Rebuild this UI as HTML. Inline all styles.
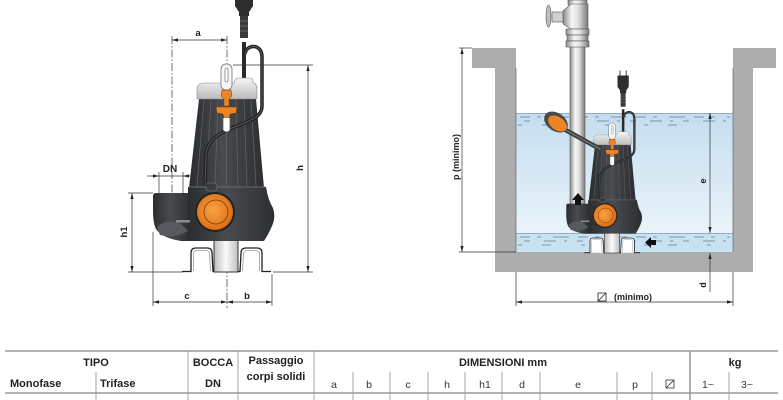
<!DOCTYPE html>
<html><head><meta charset="utf-8"><style>
html,body{margin:0;padding:0;background:#fff;width:783px;height:400px;overflow:hidden}
svg{display:block}
text{font-family:"Liberation Sans",Arial,sans-serif}
</style></head><body>
<svg width="783" height="400" viewBox="0 0 783 400" xmlns="http://www.w3.org/2000/svg">
<defs>
<linearGradient id="bg" x1="0" x2="1" y1="0" y2="0">
 <stop offset="0" stop-color="#2a2c2f"/><stop offset="0.45" stop-color="#484b4f"/><stop offset="1" stop-color="#2c2e31"/>
</linearGradient>
<linearGradient id="capg" x1="0" x2="0" y1="0" y2="1"><stop offset="0" stop-color="#f6f6f6"/><stop offset="1" stop-color="#bcbcbc"/></linearGradient>
<radialGradient id="og" cx="0.45" cy="0.45" r="0.6"><stop offset="0" stop-color="#f8a444"/><stop offset="1" stop-color="#dc6a12"/></radialGradient>
<linearGradient id="pipeg" x1="0" x2="1"><stop offset="0" stop-color="#8c8c8c"/><stop offset="0.35" stop-color="#f6f6f6"/><stop offset="0.6" stop-color="#e2e2e2"/><stop offset="1" stop-color="#7a7a7a"/></linearGradient>
<linearGradient id="inlg" x1="0" x2="1"><stop offset="0" stop-color="#bdbdbd"/><stop offset="0.5" stop-color="#fafafa"/><stop offset="1" stop-color="#c0c0c0"/></linearGradient>
<linearGradient id="wg" x1="0" x2="0" y1="0" y2="1"><stop offset="0" stop-color="#c4ddef"/><stop offset="1" stop-color="#eaf4fa"/></linearGradient>
<g id="pump">
 <!-- plug -->
 <rect x="238" y="-20" width="2" height="8" fill="#666"/>
 <rect x="248" y="-20" width="2" height="8" fill="#666"/>
 <path d="M235,-12 L253,-12 L253,6 L249,12 L249,16 L239,16 L239,12 L235,6 Z" fill="#2d2d2d"/>
 <rect x="240" y="16" width="8" height="22" fill="#3a3a3a"/>
 <g stroke="#777" stroke-width="0.7"><line x1="240" y1="21" x2="248" y2="21"/><line x1="240" y1="26" x2="248" y2="26"/><line x1="240" y1="31" x2="248" y2="31"/></g>
 <line x1="244" y1="42" x2="244" y2="80" stroke="#2a2a2a" stroke-width="4"/>
 <!-- feet -->
 <rect x="214" y="240" width="24" height="32" fill="url(#inlg)" stroke="#333" stroke-width="1"/>
 <path d="M182,271.5 L191,271.5 L191,253 Q191,248 196,248 L207,248 Q212,248 212,253 L213,271.5 L214,271.5" fill="#fff" stroke="#222" stroke-width="1.3"/>
 <path d="M193.5,271 L193.5,254 Q193.5,250.5 197,250.5 L206,250.5 Q209.5,250.5 209.5,254 L210.5,271" fill="none" stroke="#999" stroke-width="0.8"/>
 <path d="M271,271.5 L262,271.5 L262,253 Q262,248 257,248 L246,248 Q241,248 241,253 L240,271.5 L238,271.5" fill="#fff" stroke="#222" stroke-width="1.3"/>
 <path d="M259.5,271 L259.5,254 Q259.5,250.5 256,250.5 L247,250.5 Q243.5,250.5 243.5,254 L242.5,271" fill="none" stroke="#999" stroke-width="0.8"/>
 <!-- housing -->
 <path d="M153,196 Q153,193 156,193 L191,193 L191,241 L181,241 Q162,238 156,229 Q153,223 153,210 Z" fill="url(#bg)"/>
 <path d="M188,187 L266,187 Q268,200 273,208 Q276,217 272,226 Q268,235 264,241 L188,241 Z" fill="url(#bg)"/>
 <path d="M157,227 Q165,219 180,223 L188,231 Q175,239 160,235 Z" fill="#56595d"/>
 <rect x="176" y="220" width="14" height="2.5" fill="#8a8d90"/>
 <!-- body -->
 <path d="M199,99 L256,99 L264,188 L189,188 Z" fill="url(#bg)"/>
 <g stroke="#5e6165" stroke-width="0.8">
  <line x1="204" y1="100" x2="197" y2="186"/><line x1="211" y1="100" x2="206" y2="186"/>
  <line x1="218" y1="100" x2="215" y2="186"/><line x1="226.5" y1="100" x2="226.5" y2="186"/>
  <line x1="236" y1="100" x2="238" y2="186"/><line x1="244" y1="100" x2="247" y2="186"/>
  <line x1="251" y1="100" x2="256" y2="186"/>
 </g>
 <line x1="189" y1="187" x2="265" y2="187" stroke="#6a6d70" stroke-width="1"/>
 <rect x="206" y="183" width="11" height="8" rx="3" fill="#3a3c3f" stroke="#777" stroke-width="0.6"/>
 <circle cx="215" cy="212" r="20" fill="#222"/>
 <circle cx="215" cy="212" r="18" fill="url(#og)"/>
 <circle cx="216" cy="212" r="12" fill="none" stroke="#7a3c0c" stroke-width="0.8"/>
 <!-- cap -->
 <path d="M197,99 L197,90 Q197,83 204,83 L234,83 L235,80 Q236,78 239,78 L250,78 Q253,78 253,81 L253,83 Q257,83 257,90 L257,99 Z" fill="url(#capg)" stroke="#888" stroke-width="0.6"/>
 <!-- cable loop -->
 <path d="M245,54 C246,44 262,43 262,57 L262,106 C262,116 252,120 242,124 C222,132 207,138 206,155 L205,186" fill="none" stroke="#1f1f1f" stroke-width="3.5"/>
 <path d="M245,54 C246,44 262,43 262,57 L262,106 C262,116 252,120 242,124 C222,132 207,138 206,155 L205,186" fill="none" stroke="#5c5c5c" stroke-width="1"/>
 <!-- handle -->
 <rect x="221" y="64" width="11" height="26" rx="5" fill="#f6f6f6" stroke="#777" stroke-width="0.8"/>
 <rect x="225" y="68" width="3" height="14" rx="1.5" fill="#fff" stroke="#666" stroke-width="0.6"/>
 <!-- orange mechanism -->
 <path d="M222,90 L231,90 L232,96 L229,99 L229,106 L224,106 L224,99 L221,96 Z" fill="#ec8526" stroke="#6a3a10" stroke-width="0.5"/>
 <path d="M216,107 L237,107 L236,113 L230,114 L229,118 L224,118 L223,114 L217,113 Z" fill="#ec8526" stroke="#6a3a10" stroke-width="0.5"/>
 <path d="M223,118 L223,130 Q226.5,134 230,130 L230,118" fill="#fff" stroke="#555" stroke-width="0.7"/>
</g>
</defs>

<!-- ============ LEFT DIAGRAM ============ -->
<g stroke="#333" stroke-width="0.7" fill="none">
 <line x1="172" y1="36" x2="172" y2="210" stroke-dasharray="8,2,1.5,2"/>
 <line x1="227" y1="36" x2="227" y2="308" stroke-dasharray="8,2,1.5,2"/>
</g>
<use href="#pump"/>
<g stroke="#333" stroke-width="0.7" fill="none">
 <line x1="172" y1="40" x2="227" y2="40"/>
 <line x1="233" y1="65" x2="313" y2="65"/>
 <line x1="308" y1="65" x2="308" y2="272"/>
 <line x1="273" y1="272" x2="313" y2="272"/>
 <line x1="128" y1="193" x2="153" y2="193"/>
 <line x1="128" y1="272" x2="183" y2="272"/>
 <line x1="132" y1="193" x2="132" y2="272"/>
 <line x1="147" y1="176" x2="191" y2="176"/>
 <line x1="159" y1="172" x2="159" y2="193"/>
 <line x1="183" y1="172" x2="183" y2="193"/>
 <line x1="153" y1="232" x2="153" y2="306"/>
 <line x1="272" y1="274" x2="272" y2="306"/>
 <line x1="153" y1="302" x2="272" y2="302"/>
</g>
<g fill="#222">
 <polygon points="172,40 178,38.4 178,41.6"/><polygon points="227,40 221,38.4 221,41.6"/>
 <polygon points="308,65 306.4,71 309.6,71"/><polygon points="308,272 306.4,266 309.6,266"/>
 <polygon points="132,193 130.4,199 133.6,199"/><polygon points="132,272 130.4,266 133.6,266"/>
 <polygon points="159,176 153,174.4 153,177.6"/><polygon points="183,176 189,174.4 189,177.6"/>
 <polygon points="153,302 159,300.4 159,303.6"/><polygon points="227,302 221,300.4 221,303.6"/>
 <polygon points="227,302 233,300.4 233,303.6"/><polygon points="272,302 266,300.4 266,303.6"/>
</g>
<g font-weight="bold" fill="#222" font-size="9.5">
 <text x="198" y="36" text-anchor="middle">a</text>
 <text x="170" y="172" text-anchor="middle" font-size="10">DN</text>
 <text x="187" y="299" text-anchor="middle">c</text>
 <text x="247" y="299" text-anchor="middle">b</text>
 <text transform="translate(303,168) rotate(-90)" text-anchor="middle">h</text>
 <text transform="translate(127,232) rotate(-90)" text-anchor="middle">h1</text>
</g>

<!-- ============ RIGHT DIAGRAM ============ -->
<rect x="516" y="113" width="217" height="120" fill="url(#wg)"/>
<rect x="516" y="233" width="217" height="19" fill="#c9e2f1"/>
<line x1="516" y1="113.5" x2="733" y2="113.5" stroke="#7f9db2" stroke-width="0.8"/>
<line x1="516" y1="233.5" x2="733" y2="233.5" stroke="#7f9db2" stroke-width="0.8"/>
<g stroke="#5f7f96" stroke-width="0.8" fill="none">
 <line x1="520" y1="117" x2="730" y2="117" stroke-dasharray="10,7,4,12,16,9"/>
 <line x1="524" y1="121" x2="730" y2="121" stroke-dasharray="6,14,12,8,3,10"/>
 <line x1="518" y1="125" x2="700" y2="125" stroke-dasharray="4,20,9,30"/>
 <line x1="520" y1="237" x2="730" y2="237" stroke-dasharray="10,7,4,12,16,9"/>
 <line x1="524" y1="241" x2="730" y2="241" stroke-dasharray="6,14,12,8,3,10"/>
 <line x1="518" y1="245" x2="720" y2="245" stroke-dasharray="4,20,9,30"/>
</g>
<path d="M472,48 L516,48 L516,272 L495,272 L495,68 L472,68 Z" fill="#adadad"/>
<path d="M776,48 L733,48 L733,272 L753,272 L753,68 L776,68 Z" fill="#adadad"/>
<rect x="495" y="252" width="258" height="20" fill="#adadad"/>
<line x1="516" y1="68" x2="516" y2="252" stroke="#555" stroke-width="0.6"/>
<line x1="733" y1="68" x2="733" y2="252" stroke="#555" stroke-width="0.6"/>
<rect x="570" y="0" width="15" height="205" fill="url(#pipeg)" stroke="#555" stroke-width="0.6"/>
<rect x="568" y="0" width="19" height="5" fill="url(#pipeg)" stroke="#555" stroke-width="0.6"/>
<path d="M563,11 L571,4 L588,4 L588,29 L571,29 L563,24 Z" fill="url(#pipeg)" stroke="#555" stroke-width="0.6"/>
<rect x="552" y="12" width="11" height="10" fill="#cfcfcf" stroke="#555" stroke-width="0.6"/>
<ellipse cx="548.5" cy="16" rx="2.5" ry="11" fill="#bdbdbd" stroke="#555" stroke-width="0.6"/>
<rect x="566" y="29" width="23" height="6" fill="url(#pipeg)" stroke="#555" stroke-width="0.6"/>
<rect x="567" y="35" width="21" height="6" fill="url(#pipeg)" stroke="#555" stroke-width="0.6"/>
<rect x="566" y="41" width="23" height="6" fill="url(#pipeg)" stroke="#555" stroke-width="0.6"/>
<use href="#pump" transform="translate(612.5,253) scale(0.625) translate(-227,-272)"/>
<line x1="562" y1="128" x2="600" y2="149" stroke="#3c3c3c" stroke-width="4.5" stroke-linecap="round"/>
<line x1="562" y1="128" x2="600" y2="149" stroke="#6e6e6e" stroke-width="1.5" stroke-linecap="round"/>
<ellipse cx="556" cy="122" rx="13" ry="9" transform="rotate(35 556 122)" fill="#4a4a4a"/>
<ellipse cx="557.5" cy="123.5" rx="10.5" ry="6.5" transform="rotate(35 557.5 123.5)" fill="#ec8526"/>
<polygon points="572,200 578,193 584,200 581,200 581,205 575,205 575,200" fill="#111"/>
<polygon points="645,242.5 651,237 651,240 656,240 656,245 651,245 651,248" fill="#111"/>
<g stroke="#333" stroke-width="0.7" fill="none">
 <line x1="462" y1="48" x2="462" y2="252"/>
 <line x1="459" y1="48" x2="472" y2="48"/>
 <line x1="459" y1="252" x2="516" y2="252"/>
 <line x1="710" y1="113" x2="710" y2="233"/>
 <line x1="710" y1="253" x2="710" y2="292"/>
 <line x1="516" y1="272" x2="516" y2="306"/>
 <line x1="733" y1="272" x2="733" y2="306"/>
 <line x1="516" y1="302" x2="733" y2="302"/>
 <rect x="598" y="293" width="8" height="8" stroke="#222" stroke-width="0.8"/>
 <line x1="598" y1="301" x2="606" y2="293" stroke="#222" stroke-width="0.8"/>
</g>
<g fill="#222">
 <polygon points="462,48 460.4,54 463.6,54"/><polygon points="462,252 460.4,246 463.6,246"/>
 <polygon points="710,113 708.4,119 711.6,119"/><polygon points="710,233 708.4,227 711.6,227"/>
 <polygon points="710,253 708.4,259 711.6,259"/>
 <polygon points="516,302 522,300.4 522,303.6"/><polygon points="733,302 727,300.4 727,303.6"/>
</g>
<g font-weight="bold" fill="#222" font-size="9">
 <text transform="translate(459,157) rotate(-90)" text-anchor="middle">p  (minimo)</text>
 <text transform="translate(706,181) rotate(-90)" text-anchor="middle">e</text>
 <text transform="translate(706,285) rotate(-90)" text-anchor="middle">d</text>
 <text x="614" y="300">(minimo)</text>
</g>

<!-- ============ TABLE ============ -->
<g stroke="#9a9a9a" fill="none">
 <line x1="5" y1="351" x2="778" y2="351" stroke-width="1.6"/>
 <line x1="5" y1="393" x2="778" y2="393" stroke-width="1.6"/>
 <g stroke-width="0.9">
  <line x1="96" y1="372" x2="96" y2="400"/>
  <line x1="188" y1="351" x2="188" y2="400"/>
  <line x1="238" y1="351" x2="238" y2="400"/>
  <line x1="314" y1="351" x2="314" y2="400"/>
  <line x1="353" y1="372" x2="353" y2="400"/>
  <line x1="390" y1="372" x2="390" y2="400"/>
  <line x1="428" y1="372" x2="428" y2="400"/>
  <line x1="465" y1="372" x2="465" y2="400"/>
  <line x1="502" y1="372" x2="502" y2="400"/>
  <line x1="540" y1="372" x2="540" y2="400"/>
  <line x1="617" y1="372" x2="617" y2="400"/>
  <line x1="652" y1="372" x2="652" y2="400"/>
  <line x1="729" y1="372" x2="729" y2="400"/>
 </g>
 <line x1="690" y1="351" x2="690" y2="400" stroke-width="1.6"/>
</g>
<g font-weight="bold" fill="#222" font-size="11">
 <text x="96" y="366" text-anchor="middle">TIPO</text>
 <text x="10" y="387">Monofase</text>
 <text x="100" y="387">Trifase</text>
 <text x="213" y="366" text-anchor="middle">BOCCA</text>
 <text x="213" y="387" text-anchor="middle">DN</text>
 <text x="276" y="364" text-anchor="middle">Passaggio</text>
 <text x="276" y="380" text-anchor="middle">corpi solidi</text>
 <text x="503" y="366" text-anchor="middle">DIMENSIONI mm</text>
 <text x="735" y="366" text-anchor="middle">kg</text>
</g>
<g fill="#333" font-size="10.5" text-anchor="middle">
 <text x="334" y="388">a</text>
 <text x="369" y="388">b</text>
 <text x="408" y="388">c</text>
 <text x="447" y="388">h</text>
 <text x="485" y="388">h1</text>
 <text x="522" y="388">d</text>
 <text x="578" y="388">e</text>
 <text x="635" y="388">p</text>
 <text x="708" y="388">1~</text>
 <text x="747" y="388">3~</text>
</g>
<rect x="666" y="380" width="8" height="8" fill="none" stroke="#333" stroke-width="0.8"/>
<line x1="666" y1="388" x2="674" y2="380" stroke="#333" stroke-width="0.8"/>
</svg>
</body></html>
